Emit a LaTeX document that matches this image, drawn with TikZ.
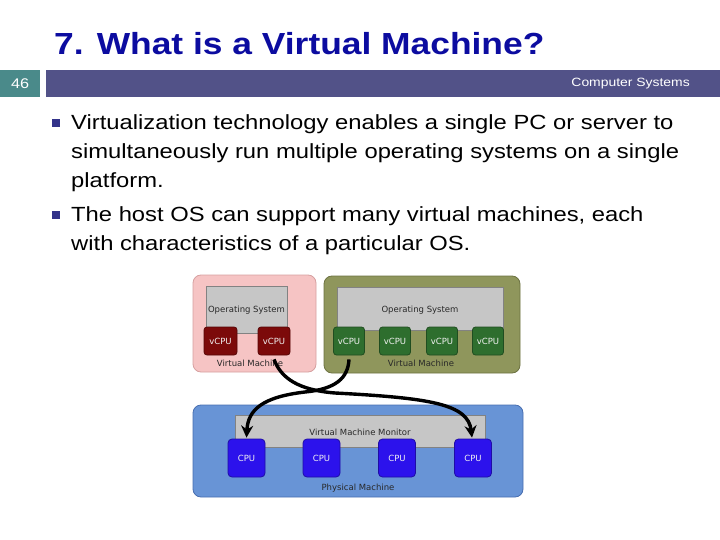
\documentclass[tikz,border=0pt]{standalone}
\usepackage{fontspec}
\setmainfont{Liberation Sans}
\newfontfamily\slidefont[FakeStretch=1.16]{Liberation Sans}
\newfontfamily\diagfont{DejaVu Sans}
\usetikzlibrary{arrows.meta}
\definecolor{titleblue}{RGB}{12,12,160}
\definecolor{barblue}{RGB}{82,82,136}
\definecolor{numteal}{RGB}{74,138,138}
\definecolor{bulletblue}{RGB}{51,51,138}
\definecolor{pinkfill}{RGB}{246,196,196}
\definecolor{pinkline}{RGB}{214,160,160}
\definecolor{olivefill}{RGB}{143,150,92}
\definecolor{oliveline}{RGB}{108,114,66}
\definecolor{osgray}{RGB}{198,198,198}
\definecolor{osline}{RGB}{130,130,130}
\definecolor{redcpu}{RGB}{124,10,10}
\definecolor{greencpu}{RGB}{46,110,46}
\definecolor{physfill}{RGB}{104,148,214}
\definecolor{physline}{RGB}{72,110,176}
\definecolor{cpublue}{RGB}{44,18,236}
\definecolor{labelgray}{RGB}{40,40,40}
\tikzset{
  box/.style={draw, inner sep=0pt, line width=0.8pt},
  vmbox/.style={box, rounded corners=8pt},
  osbox/.style={box, fill=osgray, draw=osline},
  vcpu/.style={box, rounded corners=3pt, minimum height=28pt, font=\diagfont\fontsize{8.5}{9}\selectfont, text=white!90!gray},
  redvcpu/.style={vcpu, fill=redcpu, draw=redcpu!70!black},
  greenvcpu/.style={vcpu, fill=greencpu, draw=greencpu!70!black, minimum width=31pt},
  pcpu/.style={box, rounded corners=4pt, fill=cpublue, draw=cpublue!70!black, minimum width=37pt, minimum height=38pt, font=\diagfont\fontsize{8.5}{9}\selectfont, text=white!90!gray},
  lbl/.style={font=\diagfont\fontsize{8.5}{9}\selectfont, text=labelgray, inner sep=0pt},
  bullettext/.style={anchor=north west, align=left, inner sep=0pt, font=\slidefont\fontsize{20.5}{29}\selectfont},
  bulletsq/.style={fill=bulletblue, minimum size=8pt, inner sep=0pt},
  flow/.style={line width=3.4pt, -{Stealth[length=12pt,width=12pt]}}
}
\begin{document}
\begin{tikzpicture}[x=1pt,y=-1pt]
\useasboundingbox (0,0) rectangle (720,540);
% title
\node[anchor=west, inner sep=0pt, font=\slidefont\bfseries\fontsize{30.5}{34}\selectfont, text=titleblue] (title) at (54,44) {7. What is a Virtual Machine?};
% header bar
\node[fill=numteal, minimum width=40pt, minimum height=27pt, inner sep=0pt, anchor=north west] (numbox) at (0,70) {};
\node[text=white, font=\slidefont\fontsize{14}{16}\selectfont, inner sep=0pt] (num) at (numbox.center) {46};
\node[fill=barblue, minimum width=674pt, minimum height=27pt, inner sep=0pt, anchor=north west] (bar) at (46,70) {};
\node[anchor=east, text=white, font=\slidefont\fontsize{12}{15}\selectfont, inner sep=0pt] (course) at (690,84) {Computer Systems};
% bullets
\node[bulletsq] (b1) at (56,123.5) {};
\node[bulletsq] (b2) at (56,215.5) {};
\node[bullettext] (t1) at (71,114) {Virtualization technology enables a single PC or server to\\simultaneously run multiple operating systems on a single\\platform.};
\node[bullettext] (t2) at (71,206) {The host OS can support many virtual machines, each\\with characteristics of a particular OS.};
% pink VM
\node[vmbox, fill=pinkfill, draw=pinkline, minimum width=123pt, minimum height=97pt] (vm1) at (254.5,323.5) {};
\node[osbox, minimum width=81pt, minimum height=47pt] (os1) at (246.5,309.5) {};
\node[lbl] (os1t) at (246.5,310) {Operating System};
\node[redvcpu, minimum width=33pt] (rv1) at (220.5,341) {vCPU};
\node[redvcpu, minimum width=32pt] (rv2) at (274,341) {vCPU};
\node[lbl] (vm1t) at (250,363) {Virtual Machine};
% green VM
\node[vmbox, fill=olivefill, draw=oliveline, minimum width=196pt, minimum height=97pt] (vm2) at (422,324.5) {};
\node[osbox, minimum width=166pt, minimum height=43pt] (os2) at (420,308.5) {};
\node[lbl] (os2t) at (420,310) {Operating System};
\node[greenvcpu] (gv1) at (349,341) {vCPU};
\node[greenvcpu] (gv2) at (395,341) {vCPU};
\node[greenvcpu] (gv3) at (442,341) {vCPU};
\node[greenvcpu] (gv4) at (488,341) {vCPU};
\node[lbl] (vm2t) at (421,363) {Virtual Machine};
% physical machine
\node[vmbox, fill=physfill, draw=physline, minimum width=330pt, minimum height=92pt] (pm) at (358,451) {};
\node[osbox, minimum width=250pt, minimum height=32pt] (vmm) at (360,431) {};
\node[lbl] (vmmt) at (360,432) {Virtual Machine Monitor};
\node[pcpu] (c1) at (246.5,458) {CPU};
\node[pcpu] (c2) at (321.5,458) {CPU};
\node[pcpu] (c3) at (397,458) {CPU};
\node[pcpu] (c4) at (473,458) {CPU};
\node[lbl] (pmt) at (358,488) {Physical Machine};
% arrows
\draw[flow] ([yshift=-4pt]rv2.south) .. controls (281,378) and (298,390) .. (335,393)
  .. controls (430,398) and (468,404) .. ([xshift=-1pt,yshift=1pt]c4.north);
\draw[flow] ([yshift=-4pt]gv1.south) .. controls (348,378) and (336,389) .. (305,392)
  .. controls (262,397) and (248,410) .. ([yshift=1pt]c1.north);
\end{tikzpicture}
\end{document}
